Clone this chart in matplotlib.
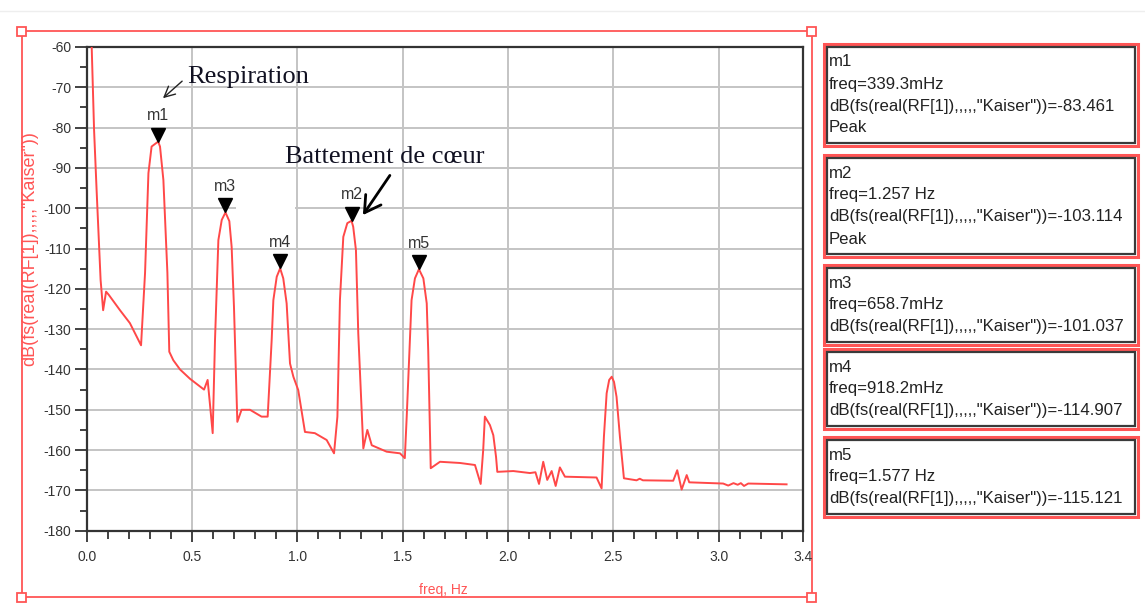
import matplotlib
matplotlib.use('Agg')
import matplotlib.pyplot as plt
from matplotlib.patches import Rectangle
from matplotlib.transforms import offset_copy
from matplotlib.ticker import MultipleLocator

plt.rcParams['font.family'] = ['Liberation Sans', 'DejaVu Sans']
plt.rcParams['axes.unicode_minus'] = False

# spectrum trace (freq in Hz, level in dB)
freq = [0.021, 0.035, 0.047, 0.066, 0.078, 0.092, 0.105, 0.158, 0.205, 0.258,
        0.277, 0.293, 0.308, 0.3393, 0.348, 0.364, 0.383, 0.392, 0.411, 0.443,
        0.49, 0.557, 0.574, 0.585, 0.598, 0.609, 0.625, 0.641, 0.6587, 0.677,
        0.688, 0.699, 0.715, 0.735, 0.775, 0.83, 0.859, 0.878, 0.886, 0.902,
        0.9182, 0.933, 0.949, 0.965, 0.981, 1.004, 1.036, 1.083, 1.139, 1.174,
        1.19, 1.202, 1.218, 1.237, 1.257, 1.265, 1.278, 1.289, 1.313, 1.332,
        1.353, 1.424, 1.487, 1.51, 1.519, 1.542, 1.558, 1.577, 1.598, 1.614,
        1.621, 1.633, 1.677, 1.772, 1.843, 1.87, 1.882, 1.890, 1.914, 1.93,
        1.943, 1.949, 2.025, 2.104, 2.13, 2.147, 2.167, 2.186, 2.207, 2.226,
        2.246, 2.27, 2.42, 2.444, 2.455, 2.468, 2.48, 2.492, 2.503, 2.515,
        2.531, 2.55, 2.61, 2.625, 2.64, 2.784, 2.803, 2.824, 2.848, 2.86,
        3.021, 3.045, 3.07, 3.09, 3.105, 3.12, 3.14, 3.322]
level = [-55, -80.6, -95.5, -117.8, -125.3, -120.7, -121.5, -125.3, -128.5, -134,
         -116, -91.3, -84.7, -83.461, -84.7, -93, -116, -135.6, -137.7, -140,
         -142.3, -145, -142.6, -148.6, -155.8, -132.7, -107.9, -102.9, -101.037, -103.2,
         -109.6, -124.4, -153, -150, -150, -151.7, -151.7, -132.7, -122.8, -117,
         -114.907, -117.4, -123.6, -138.5, -141.8, -145.1, -155.5, -155.8, -157.5, -160.8,
         -151.7, -122.8, -107.1, -103.7, -103.114, -104.6, -110.4, -131, -159.6, -155,
         -158.8, -160.4, -160.8, -162, -151.7, -122.8, -117.4, -115.121, -117.4, -123.6,
         -135.2, -164.5, -162.9, -163.2, -163.7, -168.4, -160, -151.7, -153.8, -156.3,
         -161.7, -165.4, -165.2, -165.7, -165.5, -168.4, -162.9, -167.4, -165.2, -168.9,
         -164.3, -166.6, -166.8, -169.5, -156.7, -145.9, -142.6, -141.8, -143.1, -146.8,
         -156.7, -167, -167.5, -167.1, -167.5, -167.6, -165, -169.8, -166.2, -168,
         -168.3, -168.8, -168.2, -168.6, -168.2, -168.9, -168.3, -168.5]

# markers
marker_names = ['m1', 'm2', 'm3', 'm4', 'm5']
marker_freq = [0.3393, 1.257, 0.6587, 0.9182, 1.577]
marker_db = [-83.461, -103.114, -101.037, -114.907, -115.121]
marker_peak = [True, True, False, False, False]

xticks = [0.0, 0.5, 1.0, 1.5, 2.0, 2.5, 3.0, 3.4]
yticks = list(range(-180, -59, 10))

RED = '#ff5555'
TRACE = '#ff4848'
W, H = 1145, 603

fig = plt.figure(figsize=(W / 100, H / 100), dpi=100)

# overlay in pixel units for the frame and marker readouts
ov = fig.add_axes([0, 0, 1, 1], zorder=0)
ov.set_xlim(0, W)
ov.set_ylim(H, 0)
ov.axis('off')
ov.plot([0, W], [11, 11], color='#eeeeee', lw=1)
ov.add_patch(Rectangle((21.5, 31), 790, 566, fill=False, ec=RED, lw=1.3))
for cx, cy in [(21.5, 31), (811.5, 31), (21.5, 597), (811.5, 597)]:
    ov.add_patch(Rectangle((cx - 4.5, cy - 4.5), 9, 9, fc='white', ec=RED, lw=1.3))

ax = fig.add_axes([86.7 / W, (H - 530.7) / H, (803 - 86.7) / W, (530.7 - 47) / H], zorder=1)
ax.plot(freq, level, color=TRACE, lw=1.4, zorder=3)
ax.set_xlim(0, 3.4)
ax.set_ylim(-180, -60)
ax.set_xticks(xticks)
ax.set_xticklabels([f'{t:.1f}' for t in xticks])
ax.set_yticks(yticks)
ax.xaxis.set_minor_locator(MultipleLocator(0.1))
ax.yaxis.set_minor_locator(MultipleLocator(5))
ax.grid(True, which='major', color='#c4c4c4', lw=1.4)
ax.tick_params(axis='x', which='major', length=8, width=1.3, color='#333333',
               labelsize=10, labelcolor='#333333', pad=6)
ax.tick_params(axis='x', which='minor', length=6, width=1.3, color='#333333')
ax.tick_params(axis='y', which='major', length=9, width=1.3, color='#333333',
               labelsize=10, labelcolor='#333333', pad=2)
ax.tick_params(axis='y', which='minor', length=5, width=1.3, color='#333333')
for side, sp in ax.spines.items():
    sp.set_color('#333333')
    sp.set_linewidth(1.6)

# white patch over the grid between m3 and m2
ax.add_patch(Rectangle((0.71, -106.5), 0.28, 7.5, fc='white', ec='none', zorder=2))

# marker triangles and names
tri = offset_copy(ax.transData, fig=fig, x=0, y=7, units='dots')
ax.plot(marker_freq, marker_db, 'v', color='black', ms=10, transform=tri,
        clip_on=False, zorder=4)
for name, f, d in zip(marker_names, marker_freq, marker_db):
    ax.annotate(name, (f, d), xytext=(0, 26), textcoords='offset pixels',
                ha='center', va='center', fontsize=11.5, color='#333333', zorder=5)

ax.annotate('Respiration', xy=(0.362, -72.7), xytext=(0.476, -67.4),
            fontsize=19, family=['Liberation Serif'], color='#111122',
            ha='left', va='center',
            arrowprops=dict(arrowstyle='->', color='#222222', lw=1,
                            relpos=(0, 0.5), shrinkA=2, shrinkB=0))
ax.annotate('Battement de cœur', xy=(1.311, -101.7), xytext=(0.942, -87.3),
            fontsize=19, family=['Liberation Serif'], color='#111122',
            ha='left', va='center',
            arrowprops=dict(arrowstyle='->,head_length=0.6,head_width=0.35',
                            color='black', lw=2, relpos=(0.55, 0),
                            shrinkA=4, shrinkB=0))

fig.text(30 / W, 1 - 249 / H, 'dB(fs(real(RF[1]),,,,,"Kaiser"))', rotation=90,
         ha='center', va='center', color=RED, fontsize=13)
fig.text(443 / W, 1 - 590 / H, 'freq, Hz', ha='center', va='center',
         color=RED, fontsize=10)

# marker readout boxes
box_tops = [44, 155, 265, 349, 437]
for top, name, f, d, pk in zip(box_tops, marker_names, marker_freq, marker_db, marker_peak):
    lines = [name]
    lines.append(f'freq={f * 1000:.1f}mHz' if f < 1 else f'freq={f:.3f} Hz')
    lines.append(f'dB(fs(real(RF[1]),,,,,"Kaiser"))={d:.3f}')
    if pk:
        lines.append('Peak')
    h = 14 + 22 * len(lines)
    ov.add_patch(Rectangle((824, top), 314, h, fill=False, ec=RED, lw=2.2))
    ov.add_patch(Rectangle((827, top + 3), 308, h - 6, fill=False, ec='#3a3a3a', lw=1.6))
    for i, ln in enumerate(lines):
        ov.text(829, top + 18 + 22 * i, ln, ha='left', va='center',
                fontsize=12.1, color='#222222')

fig.savefig('out.png', dpi=100)
